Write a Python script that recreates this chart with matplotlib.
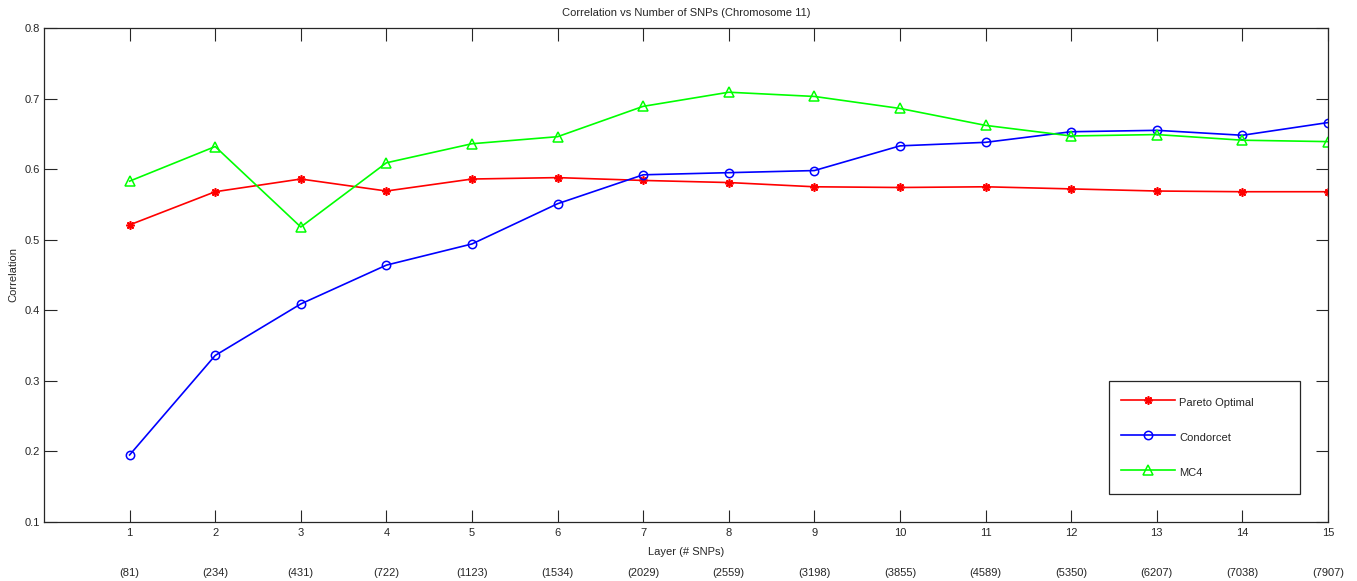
import matplotlib
matplotlib.use('Agg')
import matplotlib.pyplot as plt

layers = list(range(1, 16))
snp_counts = [81, 234, 431, 722, 1123, 1534, 2029, 2559, 3198, 3855,
              4589, 5350, 6207, 7038, 7907]

pareto = [0.521, 0.568, 0.586, 0.569, 0.586, 0.588, 0.584, 0.581, 0.575,
          0.574, 0.575, 0.572, 0.569, 0.568, 0.568]
condorcet = [0.195, 0.336, 0.409, 0.464, 0.494, 0.551, 0.592, 0.595, 0.598,
             0.633, 0.638, 0.653, 0.655, 0.648, 0.666]
mc4 = [0.583, 0.632, 0.518, 0.609, 0.636, 0.646, 0.689, 0.709, 0.703,
       0.686, 0.662, 0.647, 0.649, 0.641, 0.639]

yticks = [0.1, 0.2, 0.3, 0.4, 0.5, 0.6, 0.7, 0.8]

plt.rcParams['font.family'] = ['Liberation Sans', 'DejaVu Sans']
plt.rcParams['font.size'] = 8

fig = plt.figure(figsize=(13.57, 5.81), dpi=100)
ax = fig.add_axes([44 / 1357, 1 - 522 / 581, 1284 / 1357, 494 / 581])

ax.plot(layers, pareto, color='#ff0000', marker=(8, 2, 0), markersize=6,
        markeredgewidth=1.2, linewidth=1.2, label='Pareto Optimal')
ax.plot(layers, condorcet, color='#0000ff', marker='o', markersize=6,
        markerfacecolor='none', markeredgewidth=1.1, linewidth=1.2, label='Condorcet')
ax.plot(layers, mc4, color='#00ff00', marker='^', markersize=6.5,
        markerfacecolor='none', markeredgewidth=1.1, linewidth=1.2, label='MC4')

ax.set_xlim(0, 15)
ax.set_ylim(0.1, 0.8)
ax.set_xticks(layers)
ax.set_yticks(yticks)
ax.set_yticklabels(['%.1f' % v for v in yticks])
ax.tick_params(direction='in', length=9, width=0.8, top=True, right=True,
               colors='#262626', labelcolor='#262626')
ax.tick_params(axis='x', pad=4.5)
ax.tick_params(axis='y', pad=3)
for sp in ax.spines.values():
    sp.set_color('#262626')
    sp.set_linewidth(0.9)

# second row of labels with number of SNPs
for x, n in zip(layers, snp_counts):
    ax.text(x, -0.104, '(%d)' % n, transform=ax.get_xaxis_transform(),
            ha='center', va='center', color='#262626')

ax.set_xlabel('Layer (# SNPs)', labelpad=6, color='#262626')
ax.set_ylabel('Correlation', labelpad=4.5, color='#262626')
ax.set_title('Correlation vs Number of SNPs (Chromosome 11)', pad=9,
             fontsize=8, color='#262626')

leg = ax.legend(loc='upper left',
                bbox_to_anchor=(1109 / 1357, 1 - 493 / 581, 191 / 1357, 112 / 581),
                bbox_transform=fig.transFigure, mode='expand', borderaxespad=0,
                fancybox=False, handlelength=4.8, handleheight=2.2,
                handletextpad=0.4, labelspacing=1.47, borderpad=1.1,
                framealpha=1, edgecolor='#262626')
leg.get_frame().set_linewidth(0.9)
for t in leg.get_texts():
    t.set_color('#262626')

fig.savefig('out.png', dpi=100)
